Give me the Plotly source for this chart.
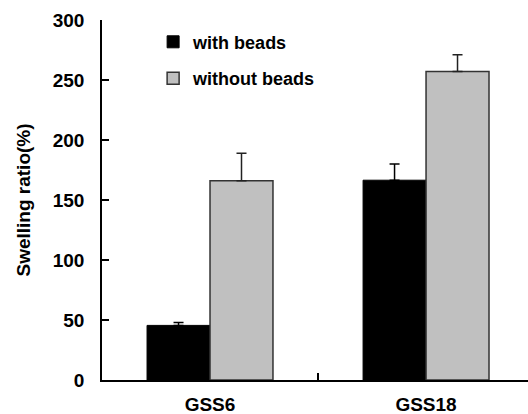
import plotly.graph_objects as go

# Swelling ratio of the two gel samples, with and without beads
categories = ["GSS6", "GSS18"]
with_beads = [45.5, 166.5]
with_beads_err = [2.5, 13.5]
without_beads = [166.0, 257.0]
without_beads_err = [23.0, 14.0]
y_ticks = [0, 50, 100, 150, 200, 250, 300]

FAMILY = "Liberation Sans, Arial, sans-serif"
BOLD = dict(family=FAMILY, size=19, color="black", weight=700)

fig = go.Figure()
fig.add_trace(go.Bar(
    x=categories, y=with_beads, name="<b>with beads</b>", legendgroup="a",
    marker=dict(color="black", line=dict(color="black", width=1)),
    error_y=dict(type="data", array=with_beads_err, arrayminus=[0, 0], symmetric=False,
                 color="black", thickness=1.5, width=5),
))
fig.add_trace(go.Bar(
    x=categories, y=without_beads, name="<b>without beads</b>", legendgroup="b",
    marker=dict(color="#C0C0C0", line=dict(color="#333333", width=1.5)),
    error_y=dict(type="data", array=without_beads_err, arrayminus=[0, 0], symmetric=False,
                 color="#222222", thickness=1.5, width=5),
))

fig.update_layout(
    width=528, height=414,
    margin=dict(l=102, r=0, t=20, b=34),
    paper_bgcolor="white", plot_bgcolor="white",
    font=BOLD,
    barmode="group", bargap=0.417, bargroupgap=0,
    showlegend=True,
    legend=dict(x=0.12, y=0.99, xanchor="left", yanchor="top",
                bgcolor="rgba(0,0,0,0)", font=dict(family=FAMILY, size=18, weight=700),
                tracegroupgap=10, itemwidth=30),
    xaxis=dict(
        type="category", range=[-0.5, 1.472], automargin=False,
        tickvals=categories, ticktext=[f"<b>{c}</b>" for c in categories],
        showline=True, linecolor="black", linewidth=1.5,
        ticks="inside", tickson="boundaries", ticklen=7, tickcolor="black", tickwidth=1.5,
        showgrid=False, tickfont=BOLD, ticklabelstandoff=6,
    ),
    yaxis=dict(
        range=[0, 300], tickvals=y_ticks, ticktext=[f"<b>{v}</b>" for v in y_ticks],
        showline=True, linecolor="black", linewidth=1.5, automargin=False,
        ticks="inside", ticklen=7, tickcolor="black", tickwidth=1.5,
        showgrid=False, zeroline=False,
        tickfont=BOLD, ticklabelstandoff=12,
        title=dict(text="<b>Swelling ratio(%)</b>", font=BOLD, standoff=17),
    ),
)

fig.write_html("out.html")
